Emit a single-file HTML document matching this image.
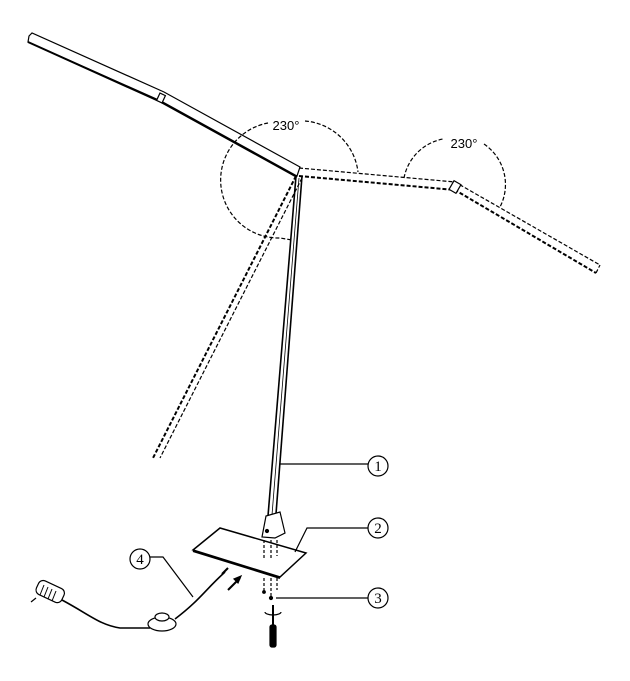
<!DOCTYPE html>
<html><head><style>body{margin:0;background:#fff}svg{display:block}</style></head><body>
<svg width="630" height="681" viewBox="0 0 630 681" xmlns="http://www.w3.org/2000/svg" font-family="Liberation Sans, sans-serif">
<g fill="none" stroke="#000" stroke-width="1.2">
<!-- top arm -->
<polygon points="29,36 32,33 164,92 300,167 297,176 161,101 28,42" fill="#fff"/>
<line x1="28" y1="42" x2="161" y2="102" stroke-width="2"/>
<line x1="161" y1="102" x2="297" y2="177" stroke-width="2"/>
<rect x="158" y="94" width="6" height="8" transform="rotate(25 161 98)" fill="#fff"/>
<!-- pole -->
<line x1="296" y1="176" x2="268" y2="516" stroke-width="1.6"/>
<line x1="302" y1="176" x2="276" y2="514" stroke-width="1.6"/>
<line x1="299" y1="178" x2="272" y2="515" stroke-width="0.8"/>
<!-- dashed right arm -->
<g stroke-dasharray="4,2">
<polyline points="299,168 455,182 600,265"/>
<polyline points="299,176 455,190 596,273" stroke-width="2"/>
<line x1="596" y1="273" x2="600" y2="265"/>
<line x1="296" y1="176" x2="153" y2="458" stroke-width="2"/>
<line x1="302" y1="178" x2="160" y2="458"/>
<path d="M305,121 A58,58 0 0 1 358,172"/>
<path d="M268,123 A58,58 0 0 0 280,238 L292,240"/>
<path d="M404,178 A49,49 0 0 1 443,139"/>
<path d="M484,144 A49,49 0 0 1 500,207"/>
</g>
<rect x="451" y="182" width="8" height="10" transform="rotate(30 455 187)" fill="#fff"/>
<polygon points="262,537 266,516 280,512 285,533 275,538" fill="#fff"/>
<circle cx="267" cy="531" r="1.5" fill="#000"/>
<polygon points="193,550 220,528 306,553 280,577" fill="#fff" stroke-width="1.5"/>
<line x1="193" y1="551" x2="280" y2="578" stroke-width="2"/>
<g stroke-dasharray="3,2">
<line x1="264" y1="540" x2="264" y2="558"/><line x1="271" y1="540" x2="271" y2="558"/><line x1="277" y1="540" x2="277" y2="556"/>
<line x1="264" y1="578" x2="264" y2="592"/><line x1="271" y1="578" x2="271" y2="598"/><line x1="277" y1="578" x2="277" y2="590"/>
</g>
<circle cx="264" cy="592" r="1.3" fill="#000"/><circle cx="271" cy="598" r="1.5" fill="#000"/>
<line x1="273" y1="605" x2="273" y2="625" stroke-width="2"/>
<path d="M265,612 A8,3 0 1 0 281,612" />
<rect x="270" y="625" width="6" height="22" rx="2" fill="#000"/>
<line x1="280" y1="464" x2="368" y2="464"/>
<polyline points="295,552 307,528 368,528"/>
<line x1="276" y1="598" x2="368" y2="598"/>
<polyline points="193,597 163,557 150,557"/>
<circle cx="378" cy="466" r="10"/><circle cx="378" cy="528" r="10"/><circle cx="378" cy="598" r="10"/><circle cx="140" cy="559" r="10"/>
<path d="M62,600 C90,615 100,625 120,628 L150,628" stroke-width="1.6"/>
<path d="M175,619 C200,600 205,590 225,572" stroke-width="1.6"/>
<ellipse cx="162" cy="624" rx="14" ry="7" fill="#fff"/>
<ellipse cx="162" cy="617" rx="7" ry="4" fill="#fff"/>
<rect x="36" y="584" width="28" height="15" rx="5" transform="rotate(25 50 592)" fill="#fff"/>
<g stroke-width="1"><line x1="44" y1="585" x2="40" y2="595"/><line x1="48" y1="587" x2="44" y2="597"/><line x1="52" y1="589" x2="48" y2="599"/><line x1="56" y1="591" x2="52" y2="601"/></g>
<line x1="36" y1="598" x2="31" y2="602"/>
<line x1="228" y1="590" x2="240" y2="578" stroke-width="2"/>
<polygon points="241,576 234,579 238,583" fill="#000"/>
<line x1="222" y1="574" x2="228" y2="568" stroke-width="2"/>
</g>
<g font-size="13" text-anchor="middle" fill="#000">
<text x="286" y="130">230°</text>
<text x="464" y="148">230°</text>
</g>
<g font-size="15" font-family="Liberation Serif, serif" text-anchor="middle" fill="#000">
<text x="378" y="471">1</text><text x="378" y="533">2</text><text x="378" y="603">3</text><text x="140" y="564">4</text>
</g>
</svg>
</body></html>
